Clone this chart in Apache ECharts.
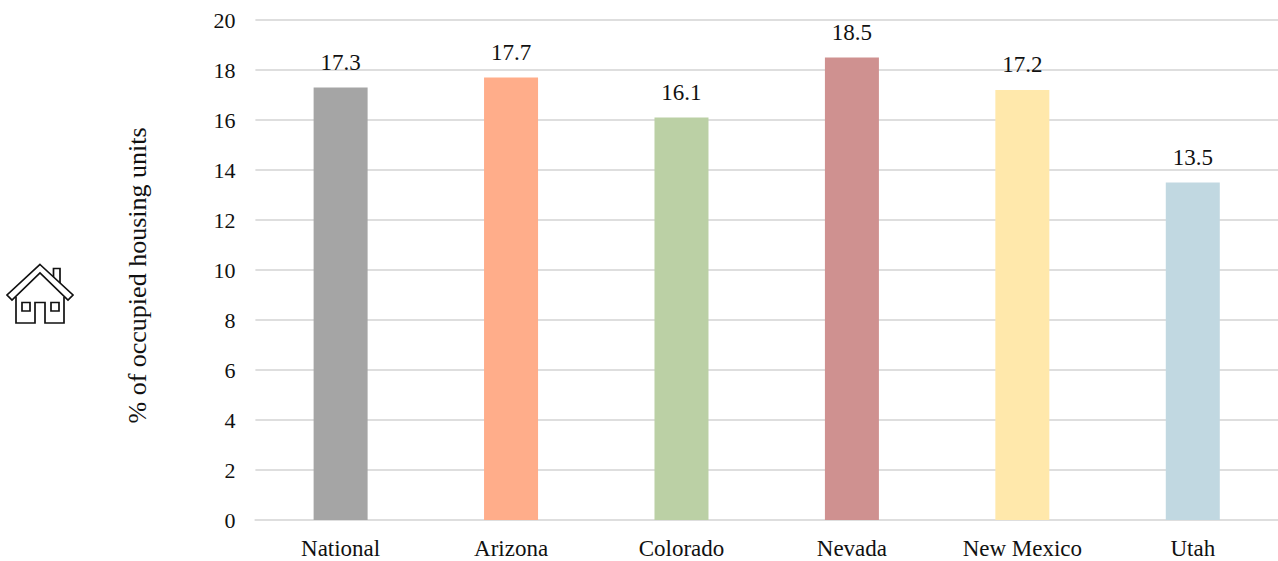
<!DOCTYPE html>
<html><head><meta charset="utf-8">
<style>html,body{margin:0;padding:0;background:#fff}#c{width:1278px;height:561px}</style>
<script src="https://cdn.jsdelivr.net/npm/echarts@6/dist/echarts.min.js"></script>
</head><body><div id="c"></div>
<script>
const categories = ['National','Arizona','Colorado','Nevada','New Mexico','Utah'];
const values = [17.3,17.7,16.1,18.5,17.2,13.5];
const colors = ['#a5a5a5','#ffad8a','#bbd0a5','#cf9190','#ffe8ab','#c1d8e1'];
const font = '"Liberation Serif", serif';
const grey = '#dedede';
const ink = '#111';
const chart = echarts.init(document.getElementById('c'),null,{renderer:'svg'});
// House icon, drawn in page coordinates
const stroke = {stroke:ink,lineWidth:1.7};
const houseIcon = [
  {type:'polyline',shape:{points:[[53.5,281],[53.5,268.5],[60,268.5],[60,286]]},style:{fill:'none',...stroke}},
  {type:'polygon',shape:{points:[[40,264.5],[73,295],[68,300],[40,273],[12,300],[7,295]]},style:{fill:'#fff',...stroke}},
  {type:'polyline',shape:{points:[[16,297],[16,323],[35,323],[35,302.5],[45,302.5],[45,323],[64,323],[64,297]]},style:{fill:'none',...stroke}},
  {type:'rect',shape:{x:22,y:302.5,width:8,height:8.5},style:{fill:'none',...stroke}},
  {type:'rect',shape:{x:51,y:302.5,width:8,height:8.5},style:{fill:'none',...stroke}}
];
chart.setOption({
  animation:false,
  grid:{left:255.4,width:1024,top:20,height:500},
  xAxis:{type:'category',data:categories,axisTick:{show:false},
    axisLine:{lineStyle:{color:grey,width:2}},
    axisLabel:{color:ink,fontFamily:font,fontSize:23,margin:17}},
  yAxis:{type:'value',min:0,max:20,interval:2,name:'% of occupied housing units',nameLocation:'middle',nameGap:104.5,
    nameTextStyle:{color:ink,fontFamily:font,fontSize:26,padding:[0,11,0,0]},
    axisLine:{show:false},axisTick:{show:false},
    splitLine:{lineStyle:{color:grey,width:2}},
    axisLabel:{color:ink,fontFamily:font,fontSize:22,margin:20,verticalAlign:'middle',lineHeight:22,padding:[0,0,3,0]}},
  series:[{type:'bar',barWidth:54,
    data:values.map((v,i)=>({value:v,itemStyle:{color:colors[i]}})),
    label:{show:true,position:'top',distance:14,color:ink,fontFamily:font,fontSize:23,formatter:p=>p.value.toFixed(1)}}],
  graphic:[{type:'group',x:0,y:0,children:houseIcon}]
});
</script></body></html>
